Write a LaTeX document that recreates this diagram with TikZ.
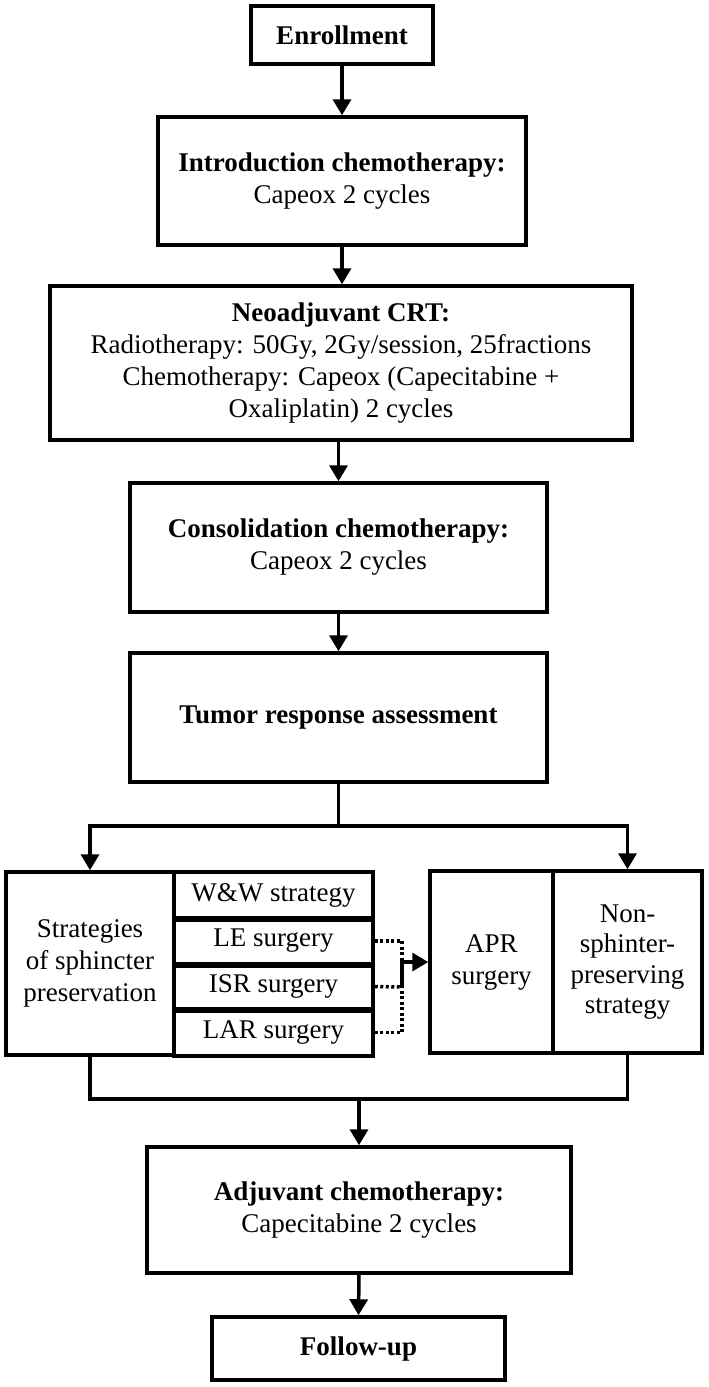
\documentclass[tikz,border=0pt]{standalone}
\usepackage{fontspec}
\setmainfont{Liberation Serif}
\usetikzlibrary{arrows.meta}
\begin{document}
\begin{tikzpicture}[x=1pt,y=-1pt,
  box/.style={draw=black,line width=3.5pt,rectangle,inner sep=0pt,align=center,
    font=\fontsize{27}{32}\selectfont},
  arr/.style={line width=3.5pt,-{Triangle[width=18pt,length=16pt]}},
  conn/.style={line width=3.5pt},
  dotline/.style={line width=3.5pt,dash pattern=on 3pt off 2.5pt}]
\fill[white] (0,0) rectangle (709,1387);
\useasboundingbox (0,0) rectangle (709,1387);

\node[box,minimum width=182pt,minimum height=58pt] (enroll) at (342,35) {\textbf{Enrollment}};
\node[box,minimum width=368pt,minimum height=128pt] (intro) at (342,181)
  {\textbf{Introduction chemotherapy:}\\Capeox 2 cycles};
\node[box,minimum width=582pt,minimum height=154pt] (neo) at (341,363)
  {\textbf{Neoadjuvant CRT:}\\Radiotherapy: 50Gy, 2Gy/session, 25fractions\\Chemotherapy: Capeox (Capecitabine +\\Oxaliplatin) 2 cycles};
\node[box,minimum width=417pt,minimum height=129pt] (cons) at (338.5,547.5)
  {\textbf{Consolidation chemotherapy:}\\Capeox 2 cycles};
\node[box,minimum width=417pt,minimum height=129pt] (tumor) at (338.5,717.5)
  {\textbf{Tumor response assessment}};

\node[box,minimum width=168pt,minimum height=183pt] (strat) at (90,963.5)
  {Strategies\\of sphincter\\preservation};
\node[box,minimum width=199pt,minimum height=46pt] (ww) at (273.5,895) {W\&W strategy};
\node[box,minimum width=199pt,minimum height=46pt] (le) at (273.5,941) {LE surgery};
\node[box,minimum width=199pt,minimum height=45pt] (isr) at (273.5,986.5) {ISR surgery};
\node[box,minimum width=199pt,minimum height=47pt] (lar) at (273.5,1032.5) {LAR surgery};
\draw[line width=5pt] (ww.south west) -- (ww.south east);
\draw[line width=5pt] (le.south west) -- (le.south east);
\draw[line width=5pt] (isr.south west) -- (isr.south east);

\node[box,minimum width=123pt,minimum height=182pt] (apr) at (491.5,962) {APR\\surgery};
\node[box,minimum width=149pt,minimum height=182pt,font=\fontsize{27}{30.5}\selectfont] (non) at (627.5,962)
  {Non-\\sphinter-\\preserving\\strategy};

\node[box,minimum width=424pt,minimum height=126pt] (adj) at (359,1210)
  {\textbf{Adjuvant chemotherapy:}\\Capecitabine 2 cycles};
\node[box,minimum width=293pt,minimum height=63pt] (follow) at (358.5,1348.5) {\textbf{Follow-up}};

% main chain
\draw[arr] (enroll.south) -- (intro.north);
\draw[arr] (intro.south) -- (intro.south |- neo.north);
\draw[arr] (neo.south -| cons.north) -- (cons.north);
\draw[arr] (cons.south) -- (tumor.north);

% branching
\coordinate (br) at (338.5,826);
\draw[conn] (tumor.south) -- (br);
\draw[arr] (br) -| (strat.north);
\draw[arr] (br) -| (non.north);

% dotted links to APR
\coordinate (dj) at (402,987);
\draw[dotline] (le.east) -| (dj);
\draw[dotline] (lar.east) -| (dj);
\draw[dotline] (isr.east) -- (dj);
\draw[arr] (dj) |- (apr.west);

% merging
\coordinate (mg) at (359,1099);
\draw[conn] (strat.south) -- (strat.south |- mg) -- (non.south |- mg) -- (non.south);
\draw[arr] (mg) -- (adj.north);
\draw[arr] (adj.south) -- (follow.north);
\end{tikzpicture}
\end{document}
